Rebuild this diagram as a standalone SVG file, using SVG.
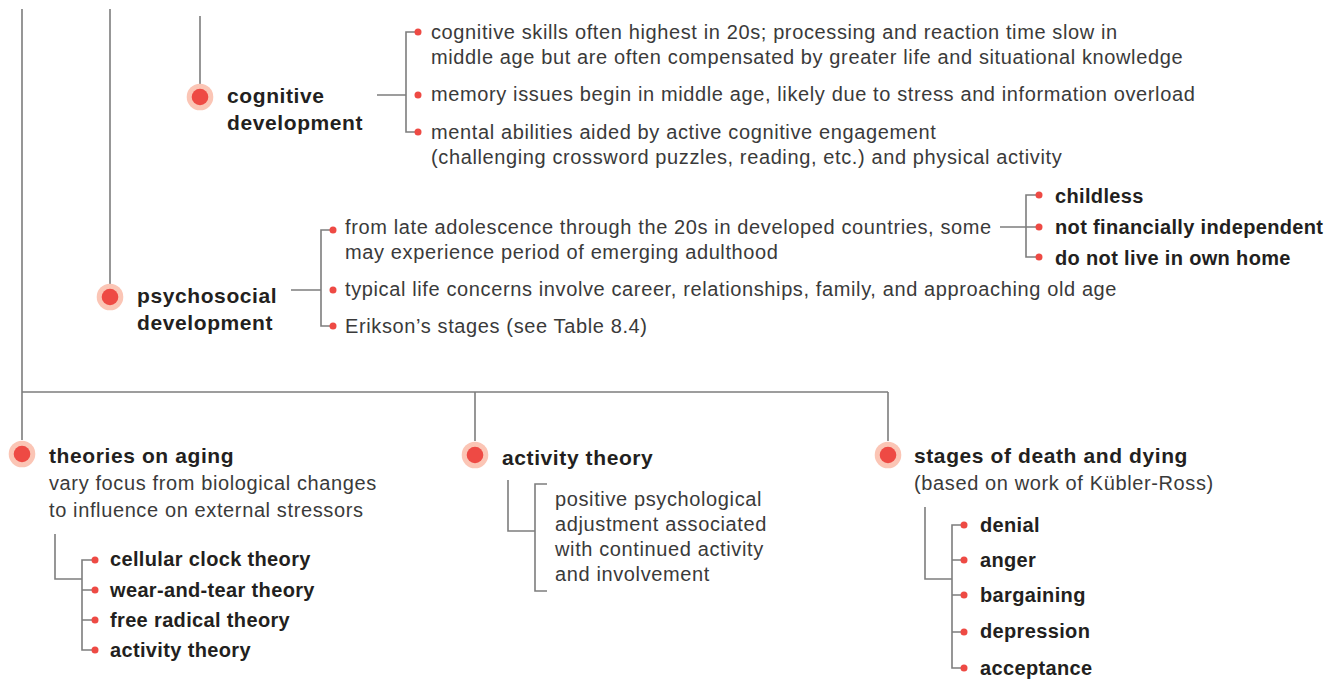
<svg xmlns="http://www.w3.org/2000/svg" width="1336" height="680" viewBox="0 0 1336 680">
<defs>
<style>
.ln{fill:none;stroke:#7d7d7d;stroke-width:1.6}
.halo{fill:#fbc5b5}
.core{fill:#ee4a44}
.dot{fill:#ee4a44}
.t{font-family:"Liberation Sans",Arial,sans-serif;font-weight:bold;font-size:21px;letter-spacing:0.6px;fill:#231f20}
.b{font-family:"Liberation Sans",Arial,sans-serif;font-weight:bold;font-size:20px;letter-spacing:0.35px;fill:#231f20}
.r{font-family:"Liberation Sans",Arial,sans-serif;font-size:20px;letter-spacing:0.62px;fill:#3a3a3a}
</style>
</defs>
<rect width="1336" height="680" fill="#ffffff"/>
<g id="connectors">
<path class="ln" d="M22 9 V440 M110 9 V284 M200 16 V85"/>
<path class="ln" d="M22 392 H888 M475 392 V441 M888 392 V441"/>
<path class="ln" d="M377 95 H406 M418 32 H406 V132 H418"/>
<path class="ln" d="M291 290 H321 M333 230 H321 V326 H333"/>
<path class="ln" d="M1000 227 H1039 M1039 195 H1026 V257 H1039"/>
<path class="ln" d="M55 534 V579 H82 M95 560 H82 V650 H95 M82 590 H95 M82 620 H95"/>
<path class="ln" d="M508 480 V531 H535 M547 484 H535 V591 H547"/>
<path class="ln" d="M925 507 V579 H952 M964 525 H952 V668 H964 M952 560 H964 M952 595 H964 M952 632 H964"/>
</g>
<g id="cognitive">
<circle class="halo" cx="200" cy="97" r="13.3"/><circle class="core" cx="200" cy="97" r="8.3"/>
<text class="t" x="227" y="103">cognitive</text>
<text class="t" x="227" y="130">development</text>
</g>
<g id="cog-items">
<circle class="dot" cx="418" cy="32" r="3.5"/><circle class="dot" cx="418" cy="95" r="3.5"/><circle class="dot" cx="418" cy="132" r="3.5"/>
<text class="r" x="431" y="39">cognitive skills often highest in 20s; processing and reaction time slow in</text>
<text class="r" x="431" y="64">middle age but are often compensated by greater life and situational knowledge</text>
<text class="r" x="431" y="101">memory issues begin in middle age, likely due to stress and information overload</text>
<text class="r" x="431" y="139">mental abilities aided by active cognitive engagement</text>
<text class="r" x="431" y="164">(challenging crossword puzzles, reading, etc.) and physical activity</text>
</g>
<g id="psychosocial">
<circle class="halo" cx="110" cy="297" r="13.3"/><circle class="core" cx="110" cy="297" r="8.3"/>
<text class="t" x="137" y="303">psychosocial</text>
<text class="t" x="137" y="330">development</text>
</g>
<g id="psy-items">
<circle class="dot" cx="333" cy="230" r="3.5"/><circle class="dot" cx="333" cy="290" r="3.5"/><circle class="dot" cx="333" cy="326" r="3.5"/>
<text class="r" x="345" y="234">from late adolescence through the 20s in developed countries, some</text>
<text class="r" x="345" y="259">may experience period of emerging adulthood</text>
<text class="r" x="345" y="296">typical life concerns involve career, relationships, family, and approaching old age</text>
<text class="r" x="345" y="333">Erikson’s stages (see Table 8.4)</text>
</g>
<g id="emerging">
<circle class="dot" cx="1039" cy="195" r="3.5"/><circle class="dot" cx="1039" cy="227" r="3.5"/><circle class="dot" cx="1039" cy="257" r="3.5"/>
<text class="b" x="1055" y="203">childless</text>
<text class="b" x="1055" y="234">not financially independent</text>
<text class="b" x="1055" y="265">do not live in own home</text>
</g>
<g id="theories">
<circle class="halo" cx="22" cy="454" r="13.3"/><circle class="core" cx="22" cy="454" r="8.3"/>
<text class="t" x="49" y="463">theories on aging</text>
<text class="r" x="49" y="490">vary focus from biological changes</text>
<text class="r" x="49" y="517">to influence on external stressors</text>
</g>
<g id="theory-items">
<circle class="dot" cx="95" cy="560" r="3.5"/><circle class="dot" cx="95" cy="590" r="3.5"/><circle class="dot" cx="95" cy="620" r="3.5"/><circle class="dot" cx="95" cy="650" r="3.5"/>
<text class="b" x="110" y="566">cellular clock theory</text>
<text class="b" x="110" y="597">wear-and-tear theory</text>
<text class="b" x="110" y="627">free radical theory</text>
<text class="b" x="110" y="657">activity theory</text>
</g>
<g id="activity">
<circle class="halo" cx="475" cy="455" r="13.3"/><circle class="core" cx="475" cy="455" r="8.3"/>
<text class="t" x="502" y="465">activity theory</text>
<text class="r" x="555" y="506">positive psychological</text>
<text class="r" x="555" y="531">adjustment associated</text>
<text class="r" x="555" y="556">with continued activity</text>
<text class="r" x="555" y="581">and involvement</text>
</g>
<g id="death">
<circle class="halo" cx="888" cy="455" r="13.3"/><circle class="core" cx="888" cy="455" r="8.3"/>
<text class="t" x="914" y="463">stages of death and dying</text>
<text class="r" x="914" y="490">(based on work of Kübler-Ross)</text>
</g>
<g id="death-items">
<circle class="dot" cx="964" cy="525" r="3.5"/><circle class="dot" cx="964" cy="560" r="3.5"/><circle class="dot" cx="964" cy="595" r="3.5"/><circle class="dot" cx="964" cy="632" r="3.5"/><circle class="dot" cx="964" cy="668" r="3.5"/>
<text class="b" x="980" y="532">denial</text>
<text class="b" x="980" y="567">anger</text>
<text class="b" x="980" y="602">bargaining</text>
<text class="b" x="980" y="638">depression</text>
<text class="b" x="980" y="675">acceptance</text>
</g>
</svg>
